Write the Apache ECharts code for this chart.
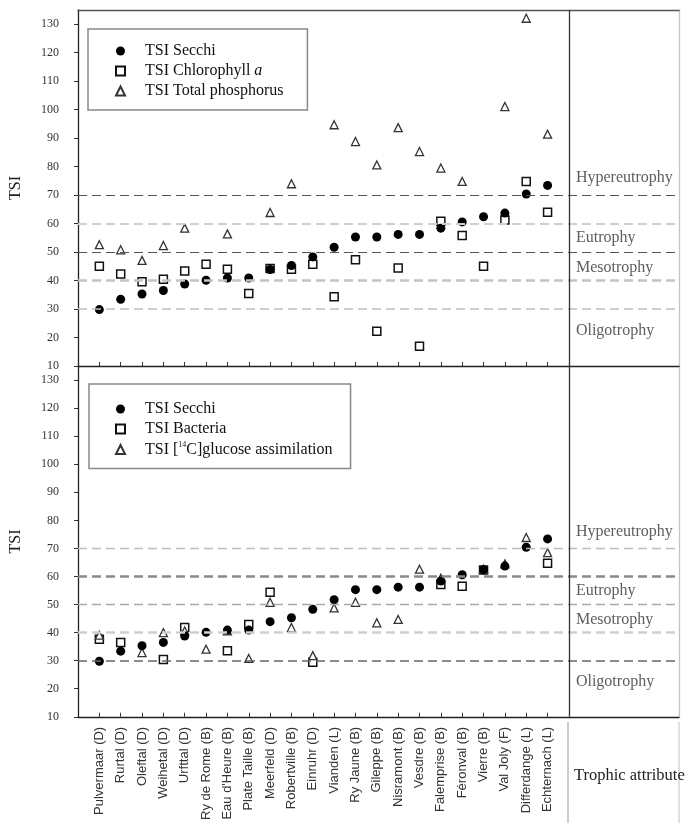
<!DOCTYPE html>
<html>
<head>
<meta charset="utf-8">
<script src="https://cdn.jsdelivr.net/npm/echarts@6/dist/echarts.min.js"></script>
<style>html,body{margin:0;padding:0;background:#fff;}#c{width:688px;height:823px;}</style>
</head>
<body>
<div id="c"></div>
<script>
// ---------- DATA ----------
const categories = ['Pulvermaar (D)', 'Rurtal (D)', 'Oleftal (D)', 'Weihetal (D)', 'Urfttal (D)', 'Ry de Rome (B)',
  "Eau d'Heure (B)", 'Plate Taille (B)', 'Meerfeld (D)', 'Robertville (B)', 'Einruhr (D)', 'Vianden (L)',
  'Ry Jaune (B)', 'Gileppe (B)', 'Nisramont (B)', 'Vesdre (B)', 'Falemprise (B)', 'Féronval (B)',
  'Vierre (B)', 'Val Joly (F)', 'Differdange (L)', 'Echternach (L)'];
const secchi = [29.8, 33.4, 35.3, 36.5, 38.8, 40.1, 40.9, 40.9, 43.9, 45.3, 48.3, 51.7, 55.3, 55.3, 56.2, 56.2, 58.4, 60.6, 62.4, 63.7, 70.4, 73.4];
const chlorophyll = [45.0, 42.3, 39.6, 40.5, 43.4, 45.7, 44.0, 35.5, 44.2, 44.0, 45.7, 34.3, 47.3, 22.2, 44.4, 16.9, 60.8, 55.8, 45.0, 61.3, 74.8, 64.0];
const phosphorus = [52.6, 50.8, 47.1, 52.3, 58.4, null, 56.4, null, 63.9, 74.0, null, 94.7, 88.8, 80.6, 93.7, 85.3, 79.5, 74.8, null, 101.1, 132.1, 91.4];
const bacteria = [37.6, 36.5, null, 30.4, 41.8, null, 33.5, 42.9, 54.4, null, 29.4, null, null, null, null, null, 57.1, 56.5, 62.3, null, null, 64.7];
const glucose = [39.1, null, 32.9, 40.0, 40.6, 34.1, 40.6, 30.8, 50.8, 41.8, 31.8, 48.8, 50.8, 43.5, 44.7, 62.6, 59.4, null, 62.6, 64.5, 73.9, 68.5];
const yTicks = [10, 20, 30, 40, 50, 60, 70, 80, 90, 100, 110, 120, 130];
const thresholds = [30, 40, 50, 60, 70];
const trophicClasses = ['Hypereutrophy', 'Eutrophy', 'Mesotrophy', 'Oligotrophy'];
const trophicLabelTSI = [76, 55, 44.5, 22.5];
const legendTop = ['TSI Secchi', 'TSI Chlorophyll a', 'TSI Total phosphorus'];
const legendBottom = ['TSI Secchi', 'TSI Bacteria', 'TSI [14C]glucose assimilation'];

// ---------- STYLE / LAYOUT ----------
const SERIF = '"Liberation Serif", "Times New Roman", serif';
const SANS = '"Liberation Sans", Arial, sans-serif';
const plotLeft = 73, plotRight = 568, frameRight = 679;
const nCat = categories.length;
const xMin = -1, sepX = nCat;
const xMax = xMin + (sepX - xMin) * (frameRight - plotLeft) / (plotRight - plotLeft);
const idx = categories.map((_, i) => i);

const thrStyles = [
  [ {color:'#bdbdbd', width:1.5}, {color:'#c4c4c4', width:2.5}, {color:'#555', width:1.2}, {color:'#cfcfcf', width:2.2}, {color:'#555', width:1.2} ],
  [ {color:'#666', width:1.5}, {color:'#cfcfcf', width:2.5}, {color:'#a8a8a8', width:1.4}, {color:'#8a8a8a', width:2.5}, {color:'#bdbdbd', width:1.3} ]
];

function pts(arr) { return arr.map((v, i) => v == null ? null : [i, v]).filter(Boolean); }

const styles = {
  circle: { symbol: 'circle', symbolSize: 9, itemStyle: { color: '#000', borderColor: '#000', borderWidth: 0, opacity: 1 } },
  square: { symbol: 'rect', symbolSize: 8, itemStyle: { color: '#fff', borderColor: '#111', borderWidth: 1.5, opacity: 1 } },
  tri: { symbol: 'triangle', symbolSize: 8, itemStyle: { color: '#fff', borderColor: '#333', borderWidth: 1.3, opacity: 1 } }
};

function scatter(name, arr, st, g) {
  return Object.assign({
    type: 'scatter', name: name, data: pts(arr), xAxisIndex: g, yAxisIndex: g,
    emphasis: { disabled: true }, silent: true, z: 3
  }, JSON.parse(JSON.stringify(st)));
}

function refLines(g) {
  return {
    type: 'line', data: [], xAxisIndex: g, yAxisIndex: g, silent: true, z: 1,
    markLine: {
      symbol: 'none', silent: true, animation: false, label: { show: false },
      data: thresholds.map((t, k) => ({ yAxis: t, lineStyle: { type: [9, 5], color: thrStyles[g][k].color, width: thrStyles[g][k].width } }))
        .concat([{ xAxis: sepX, lineStyle: { type: 'solid', color: '#333', width: 1.3 } }])
    }
  };
}

function classLabels(g) {
  return {
    type: 'scatter', xAxisIndex: g, yAxisIndex: g, symbolSize: 0, silent: true,
    data: trophicClasses.map((n, k) => ({ name: n, value: [sepX, trophicLabelTSI[k]] })),
    label: { show: true, position: 'right', distance: 7, formatter: '{b}', fontFamily: SERIF, fontSize: 16, color: '#333' }
  };
}

function xAxisFor(g) {
  return {
    type: 'value', gridIndex: g, min: xMin, max: xMax, position: 'bottom',
    axisLine: { show: true, onZero: false, lineStyle: { color: '#222', width: 1.3 } },
    axisTick: { show: true, inside: true, length: 4, customValues: idx, lineStyle: { color: '#333' } },
    axisLabel: { show: g === 1, customValues: idx, rotate: 90, margin: 10, fontFamily: SANS, fontSize: 13, color: '#333',
      formatter: v => categories[Math.round(v)] },
    splitLine: { show: false }
  };
}
function yAxisFor(g) {
  return {
    type: 'value', gridIndex: g, min: 10, max: 135, position: 'left',
    name: 'TSI', nameLocation: 'middle', nameGap: 54,
    nameTextStyle: { fontFamily: SERIF, fontSize: 16, color: '#222' },
    axisLine: { show: true, onZero: false, lineStyle: { color: '#222', width: 1.3 } },
    axisTick: { show: true, inside: false, length: 4, customValues: yTicks, lineStyle: { color: '#333' } },
    axisLabel: { customValues: yTicks, margin: 19, fontFamily: SERIF, fontSize: 12, color: '#333' },
    splitLine: { show: false }
  };
}
function rightAxisFor(g) {
  return {
    type: 'value', gridIndex: g, min: 10, max: 135, position: 'right',
    axisLine: { show: true, onZero: false, lineStyle: { color: '#c4c4c4', width: 1.3 } },
    axisTick: { show: false }, axisLabel: { show: false }, splitLine: { show: false }
  };
}

const FS = 16;
const legendText = {
  fontFamily: SERIF, fontSize: FS, color: '#111',
  rich: {
    g: { width: 15 },
    i: { fontFamily: SERIF, fontSize: FS, fontStyle: 'italic', color: '#111' },
    sup: { fontFamily: SERIF, fontSize: 8, color: '#111', padding: [0, 0, 9, 0] },
    n: { fontFamily: SERIF, fontSize: FS, color: '#111' }
  }
};
function legendFormatter(name) {
  if (name === 'TSI Chlorophyll a') return '{g|}{n|TSI Chlorophyll }{i|a}';
  if (name === 'TSI [14C]glucose assimilation') return '{g|}{n|TSI [}{sup|14}{n|C]glucose assimilation}';
  return '{g|}{n|' + name + '}';
}

const option = {
  animation: false,
  backgroundColor: '#fff',
  grid: [
    { left: plotLeft, top: 10, width: frameRight - plotLeft, height: 356 },
    { left: plotLeft, top: 366, width: frameRight - plotLeft, height: 356 }
  ],
  xAxis: [xAxisFor(0), xAxisFor(1), {
    type: 'value', gridIndex: 0, min: xMin, max: xMax, position: 'top',
    axisLine: { show: true, onZero: false, lineStyle: { color: '#555', width: 1.3 } },
    axisTick: { show: false }, axisLabel: { show: false }, splitLine: { show: false }
  }],
  yAxis: [yAxisFor(0), yAxisFor(1), rightAxisFor(0), rightAxisFor(1)],
  legend: [
    { orient: 'vertical', left: 88, top: 29, data: legendTop, itemWidth: 9, itemHeight: 9, itemGap: 4,
      padding: [14, 24, 11, 27], borderColor: '#888', borderWidth: 1.5, textStyle: legendText,
      formatter: legendFormatter, selectedMode: false },
    { orient: 'vertical', left: 89, top: 384, data: legendBottom, itemWidth: 9, itemHeight: 9, itemGap: 4,
      padding: [17, 18, 11, 26], borderColor: '#888', borderWidth: 1.5, textStyle: legendText,
      formatter: legendFormatter, selectedMode: false }
  ],
  series: [
    refLines(0), refLines(1),
    scatter('TSI Chlorophyll a', chlorophyll, styles.square, 0),
    scatter('TSI Total phosphorus', phosphorus, styles.tri, 0),
    scatter('TSI Secchi', secchi, styles.circle, 0),
    scatter('TSI Bacteria', bacteria, styles.square, 1),
    scatter('TSI [14C]glucose assimilation', glucose, styles.tri, 1),
    scatter('TSI Secchi', secchi, styles.circle, 1),
    classLabels(0), classLabels(1)
  ],
  graphic: [
    { type: 'line', shape: { x1: plotRight, y1: 722, x2: plotRight, y2: 823 }, style: { stroke: '#aaa', lineWidth: 1.2 } },
    { type: 'line', shape: { x1: frameRight, y1: 722, x2: frameRight, y2: 823 }, style: { stroke: '#ccc', lineWidth: 1.2 } },
    { type: 'text', left: 574, top: 767, style: { text: 'Trophic attribute', fontFamily: SERIF, fontSize: 16.5, fill: '#222' } }
  ]
};

const chart = echarts.init(document.getElementById('c'), null, { renderer: 'canvas' });
chart.setOption(option);
</script>
</body>
</html>
